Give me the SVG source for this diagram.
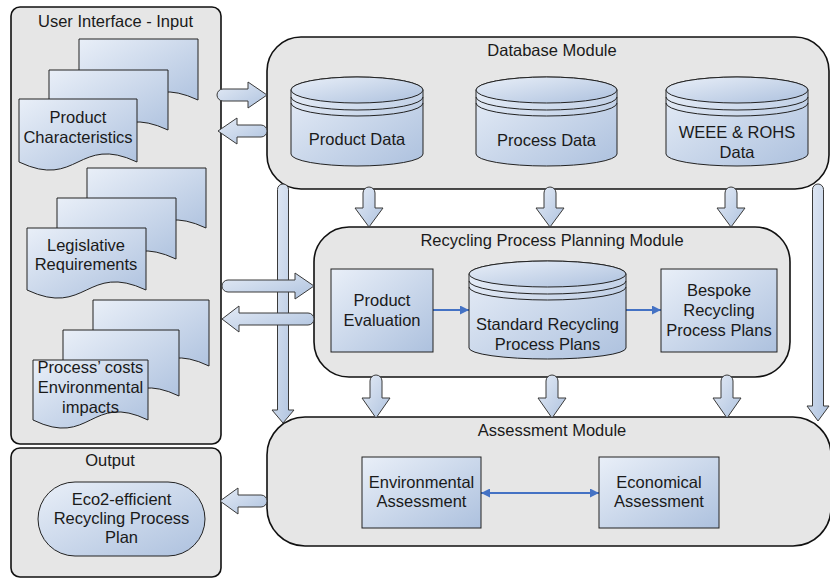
<svg xmlns="http://www.w3.org/2000/svg" width="830" height="581" viewBox="0 0 830 581">
<defs>
<linearGradient id="gn" x1="0" y1="0" x2="1" y2="1">
<stop offset="0" stop-color="#e9eff8"/>
<stop offset="1" stop-color="#adc1de"/>
</linearGradient>
<linearGradient id="ga" x1="0" y1="0" x2="1" y2="1">
<stop offset="0" stop-color="#e4ebf6"/>
<stop offset="1" stop-color="#afc3df"/>
</linearGradient>
<marker id="ah" viewBox="0 0 10 10" refX="10" refY="5" markerWidth="10" markerHeight="9" markerUnits="userSpaceOnUse" orient="auto-start-reverse">
<path d="M0,0 L10,5 L0,10 Z" fill="#4472c4"/>
</marker>
<style>
.panel{fill:#e6e6e6;stroke:#111;stroke-width:1.6}
.node{fill:url(#gn);stroke:#222;stroke-width:1}
.line{fill:none;stroke:#222;stroke-width:1}
.blk{fill:url(#ga);stroke:#3a3a3a;stroke-width:1}
.con{fill:none;stroke:#4472c4;stroke-width:2}
text{font-family:"Liberation Sans",Arial,sans-serif;font-size:16.5px;fill:#1a1a1a;text-anchor:middle}
</style>
</defs>

<g id="ui-panel">
<rect class="panel" x="11" y="7" width="210" height="437" rx="9"/>
<text x="115.5" y="27">User Interface - Input</text>
</g>
<g id="output-panel">
<rect class="panel" x="11" y="448" width="210" height="129" rx="9"/>
<text x="110" y="466">Output</text>
</g>
<g id="database-module">
<rect class="panel" x="267" y="37" width="562" height="152" rx="34"/>
<text x="552" y="56">Database Module</text>
</g>
<g id="recycling-module">
<rect class="panel" x="314" y="227" width="476" height="150" rx="35"/>
<text x="552" y="246">Recycling Process Planning Module</text>
</g>
<g id="assessment-module">
<rect class="panel" x="267" y="417" width="564" height="129" rx="38"/>
<text x="552" y="436">Assessment Module</text>
</g>

<g id="connectors">
<path class="blk" d="M277.5,189.5 A5.5,5.5 0 0 1 288.5,189.5 V410 H294 L283,423 L272,410 H277.5 Z"/>
<path class="blk" d="M812.5,189.5 A5.5,5.5 0 0 1 823.5,189.5 V406 H829 L818,421 L807,406 H812.5 Z"/>
<path class="blk" d="M223,89 H248 V82 L267,95 L248,108 V101 H223 A6,6 0 0 1 223,89 Z"/>
<path class="blk" d="M218,131 L237,118 V125 H261 A6,6 0 0 1 261,137 H237 V144 Z"/>
<path class="blk" d="M228,280 H295 V273 L314,286 L295,299 V292 H228 A6,6 0 0 1 228,280 Z"/>
<path class="blk" d="M222,319 L239,306 V313 H308 A6,6 0 0 1 308,325 H239 V332 Z"/>
<path class="blk" d="M220,501 L238,488 V495 H261 A6,6 0 0 1 261,507 H238 V514 Z"/>
<path class="blk" d="M363,193 A6,6 0 0 1 375,193 V208 H383 L369,227 L355,208 H363 Z"/>
<path class="blk" d="M544,193 A6,6 0 0 1 556,193 V208 H564 L550,227 L536,208 H544 Z"/>
<path class="blk" d="M725,193 A6,6 0 0 1 737,193 V208 H745 L731,227 L717,208 H725 Z"/>
<path class="blk" d="M370,381 A6,6 0 0 1 382,381 V398 H390 L376,418 L362,398 H370 Z"/>
<path class="blk" d="M546,381 A6,6 0 0 1 558,381 V398 H566 L552,418 L538,398 H546 Z"/>
<path class="blk" d="M721,381 A6,6 0 0 1 733,381 V398 H741 L727,418 L713,398 H721 Z"/>
<line class="con" x1="433" y1="310" x2="469" y2="310" marker-end="url(#ah)"/>
<line class="con" x1="626" y1="310" x2="661" y2="310" marker-end="url(#ah)"/>
<line class="con" x1="481" y1="493" x2="599" y2="493" marker-start="url(#ah)" marker-end="url(#ah)"/>
</g>

<g id="product-characteristics">
<path class="node" d="M79,39 H198 V100 C138.5,72 138.5,128 79,100 Z"/>
<path class="node" d="M49,70 H168 V130 C108.5,102 108.5,158 49,130 Z"/>
<path class="node" d="M19,99 H137 V162 C78,134 78,190 19,162 Z"/>
<text x="78" y="123">Product</text>
<text x="78" y="143">Characteristics</text>
</g>
<g id="legislative-requirements">
<path class="node" d="M87,168 H206 V228 C146.5,200 146.5,256 87,228 Z"/>
<path class="node" d="M57,198 H176 V259 C116.5,231 116.5,287 57,259 Z"/>
<path class="node" d="M27,228 H146 V290 C86.5,262 86.5,318 27,290 Z"/>
<text x="86" y="251">Legislative</text>
<text x="86" y="270">Requirements</text>
</g>
<g id="process-costs">
<path class="node" d="M93,300 H209 V366 C151,338 151,394 93,366 Z"/>
<path class="node" d="M63,330 H179 V396 C121,368 121,424 63,396 Z"/>
<path class="node" d="M33,360 H148 V420 C90.5,392 90.5,448 33,420 Z"/>
<text x="90.5" y="373">Process’ costs</text>
<text x="90.5" y="393">Environmental</text>
<text x="90.5" y="413">impacts</text>
</g>

<g id="output-plan">
<rect class="node" x="38" y="482" width="167" height="74" rx="37"/>
<text x="121.5" y="505">Eco2-efficient</text>
<text x="121.5" y="524">Recycling Process</text>
<text x="121.5" y="543">Plan</text>
</g>

<g id="product-data">
<path class="node" d="M291,90 V154 A66,12 0 0 0 423,154 V90 A66,13 0 0 0 291,90 Z"/>
<ellipse class="node" cx="357" cy="90" rx="66" ry="13"/>
<path class="line" d="M291,97 A66,13 0 0 0 423,97 M291,103 A66,13 0 0 0 423,103"/>
<text x="357" y="145">Product Data</text>
</g>
<g id="process-data">
<path class="node" d="M476,90 V154 A70.5,12 0 0 0 617,154 V90 A70.5,13 0 0 0 476,90 Z"/>
<ellipse class="node" cx="546.5" cy="90" rx="70.5" ry="13"/>
<path class="line" d="M476,97 A70.5,13 0 0 0 617,97 M476,103 A70.5,13 0 0 0 617,103"/>
<text x="546.5" y="146">Process Data</text>
</g>
<g id="weee-rohs-data">
<path class="node" d="M666,90 V154 A71,12 0 0 0 808,154 V90 A71,13 0 0 0 666,90 Z"/>
<ellipse class="node" cx="737" cy="90" rx="71" ry="13"/>
<path class="line" d="M666,97 A71,13 0 0 0 808,97 M666,103 A71,13 0 0 0 808,103"/>
<text x="737" y="138">WEEE &amp; ROHS</text>
<text x="737" y="158">Data</text>
</g>

<g id="product-evaluation">
<rect class="node" x="331" y="269" width="102" height="83"/>
<text x="382" y="306">Product</text>
<text x="382" y="326">Evaluation</text>
</g>
<g id="standard-plans">
<path class="node" d="M469,274 V348 A78.5,11 0 0 0 626,348 V274 A78.5,13 0 0 0 469,274 Z"/>
<ellipse class="node" cx="547.5" cy="274" rx="78.5" ry="13"/>
<path class="line" d="M469,281 A78.5,13 0 0 0 626,281 M469,287 A78.5,13 0 0 0 626,287"/>
<text x="547.5" y="330">Standard Recycling</text>
<text x="547.5" y="350">Process Plans</text>
</g>
<g id="bespoke-plans">
<rect class="node" x="661" y="269" width="116" height="83"/>
<text x="719" y="296">Bespoke</text>
<text x="719" y="316">Recycling</text>
<text x="719" y="336">Process Plans</text>
</g>

<g id="environmental-assessment">
<rect class="node" x="362" y="457" width="119" height="71"/>
<text x="421.5" y="488">Environmental</text>
<text x="421.5" y="507">Assessment</text>
</g>
<g id="economical-assessment">
<rect class="node" x="599" y="457" width="120" height="71"/>
<text x="659" y="488">Economical</text>
<text x="659" y="507">Assessment</text>
</g>
</svg>
